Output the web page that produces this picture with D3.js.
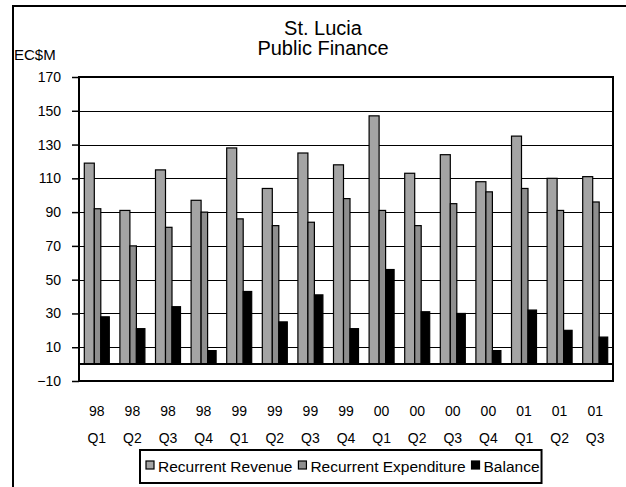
<!DOCTYPE html>
<html>
<head>
<meta charset="utf-8">
<script src="https://cdn.jsdelivr.net/npm/d3@7"></script>
<style>
  body { margin: 0; background: #fff; }
  svg { display: block; font-family: "Liberation Sans", Arial, sans-serif; }
</style>
</head>
<body>
<div id="my_dataviz"></div>
<script>
// quarters (two-line labels)
var years    = ["98","98","98","98","99","99","99","99","00","00","00","00","01","01","01"];
var quarters = ["Q1","Q2","Q3","Q4","Q1","Q2","Q3","Q4","Q1","Q2","Q3","Q4","Q1","Q2","Q3"];

// values, EC$M
var revenue     = [119, 91, 115, 97, 128, 104, 125, 118, 147, 113, 124, 108, 135, 110, 111];
var expenditure = [ 92, 70,  81, 90,  86,  82,  84,  98,  91,  82,  95, 102, 104,  91,  96];
var balance     = [ 28, 21,  34,  8,  43,  25,  41,  21,  56,  31,  30,   8,  32,  20,  16];

var seriesNames = ["Recurrent Revenue", "Recurrent Expenditure", "Balance"];
var yTicks = [-10, 10, 30, 50, 70, 90, 110, 130, 150, 170];

var width = 626, height = 487;
var plot = {left: 79, right: 613, top: 77, bottom: 381};

var svg = d3.select("#my_dataviz")
  .append("svg")
    .attr("width", width)
    .attr("height", height);

// outer chart frame (runs past the window on the right and bottom)
svg.append("rect")
  .attr("x", 13).attr("y", 6)
  .attr("width", 640).attr("height", 520)
  .attr("fill", "none")
  .attr("stroke", "#000")
  .attr("stroke-width", 2);

var labels = years.map((y, i) => y + " " + quarters[i]);

var x = d3.scaleBand()
  .domain(labels)
  .range([plot.left, plot.right]);

var y = d3.scaleLinear()
  .domain([-10, 170])
  .range([plot.bottom, plot.top]);

// gridlines
svg.append("g")
  .selectAll("line")
  .data(yTicks.filter(d => d > -10 && d < 170))
  .join("line")
    .attr("x1", plot.left).attr("x2", plot.right)
    .attr("y1", d => Math.round(y(d)) + 0.5)
    .attr("y2", d => Math.round(y(d)) + 0.5)
    .attr("stroke", "#000")
    .attr("stroke-width", 1);

// bars: per-series offset and width inside a category
var groupW = 25;
var inner = [{off: 0, w: 10}, {off: 10, w: 6.5}, {off: 16.5, w: 8.5}];
var colors = ["#a4a4a4", "#8e8e8e", "#000000"];
var series = [revenue, expenditure, balance];

series.forEach(function(vals, s) {
  svg.append("g")
    .attr("fill", colors[s])
    .attr("stroke", "#000")
    .attr("stroke-width", 1.2)
    .selectAll("rect")
    .data(vals)
    .join("rect")
      .attr("x", (d, i) => x(labels[i]) + (x.bandwidth() - groupW) / 2 + inner[s].off)
      .attr("y", d => y(d))
      .attr("width", inner[s].w)
      .attr("height", d => y(0) - y(d));
});

// zero line
svg.append("line")
  .attr("x1", plot.left).attr("x2", plot.right)
  .attr("y1", y(0)).attr("y2", y(0))
  .attr("stroke", "#000").attr("stroke-width", 2);

// plot border
svg.append("rect")
  .attr("x", plot.left).attr("y", plot.top)
  .attr("width", plot.right - plot.left)
  .attr("height", plot.bottom - plot.top)
  .attr("fill", "none")
  .attr("stroke", "#000")
  .attr("stroke-width", 2);

// y axis
var yAxis = g => g
  .attr("transform", `translate(${plot.left},0)`)
  .call(d3.axisLeft(y).tickValues(yTicks).tickSize(7).tickPadding(11))
  .call(g => g.select(".domain").remove())
  .call(g => g.selectAll(".tick line").attr("stroke-width", 1.5))
  .call(g => g.selectAll("text")
      .attr("font-family", "Liberation Sans, Arial, sans-serif")
      .attr("font-size", 14)
      .attr("fill", "#000"));
svg.append("g").call(yAxis);

// x labels, two lines each
var xl = svg.append("g")
  .attr("text-anchor", "middle")
  .attr("font-size", 14)
  .attr("fill", "#000")
  .selectAll("text")
  .data(labels)
  .join("text")
    .attr("x", d => x(d) + x.bandwidth() / 2)
    .attr("y", 416);
xl.append("tspan").text((d, i) => years[i]);
xl.append("tspan")
  .attr("x", d => x(d) + x.bandwidth() / 2)
  .attr("dy", 27)
  .text((d, i) => quarters[i]);

// title
svg.append("text")
  .attr("x", 323).attr("y", 35)
  .attr("text-anchor", "middle")
  .attr("font-size", 20)
  .text("St. Lucia");
svg.append("text")
  .attr("x", 323).attr("y", 55)
  .attr("text-anchor", "middle")
  .attr("font-size", 20)
  .text("Public Finance");

// unit label
svg.append("text")
  .attr("x", 14).attr("y", 60)
  .attr("font-size", 15)
  .text("EC$M");

// legend
var legend = svg.append("g");
var box = legend.append("rect")
  .attr("x", 140).attr("y", 450)
  .attr("height", 33)
  .attr("fill", "#fff")
  .attr("stroke", "#000")
  .attr("stroke-width", 2);

var lx = 146;
seriesNames.forEach(function(name, s) {
  legend.append("rect")
    .attr("x", lx).attr("y", 461)
    .attr("width", 8).attr("height", 8)
    .attr("fill", colors[s])
    .attr("stroke", "#000")
    .attr("stroke-width", 1.2);
  var t = legend.append("text")
    .attr("x", lx + 12).attr("y", 472)
    .attr("font-size", 15.5)
    .text(name);
  lx += 12 + t.node().getComputedTextLength() + 6;
});
box.attr("width", lx - 140 - 4);
</script>
</body>
</html>
